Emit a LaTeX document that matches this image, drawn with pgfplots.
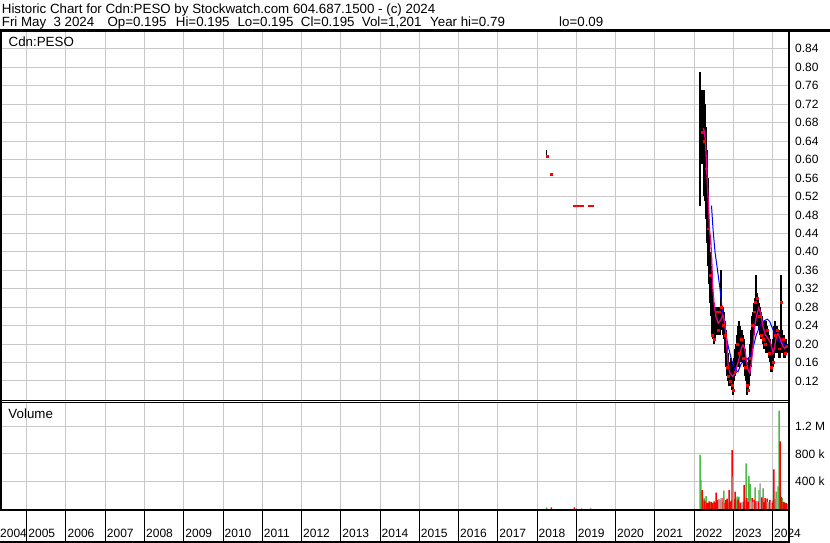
\documentclass[border=0pt]{standalone}
\usepackage{fontspec}
\setmainfont{Liberation Sans}
\usepackage{pgfplots}
\pgfplotsset{compat=1.18}
\usepackage{pgfplotstable}

\definecolor{gridc}{RGB}{200,200,200}
\definecolor{volg}{RGB}{76,185,72}
\definecolor{volr}{RGB}{255,0,0}
\definecolor{vola}{RGB}{170,170,170}

% price bars: x (year), high, low, close, red close mark
\pgfplotstableread{
x h l c r
2018.242 0.620 0.608 0.608 nan
2018.250 0.608 0.608 0.608 0.608
2018.268 0.608 0.608 0.608 0.608
2018.369 0.569 0.569 0.569 0.569
2018.955 0.50 0.50 0.50 0.50
2018.981 0.50 0.50 0.50 0.50
2019.006 0.50 0.50 0.50 0.50
2019.032 0.50 0.50 0.50 0.50
2019.057 0.50 0.50 0.50 0.50
2019.134 0.50 0.50 0.50 0.50
2019.159 0.50 0.50 0.50 0.50
2019.338 0.50 0.50 0.50 0.50
2019.363 0.50 0.50 0.50 0.50
2019.389 0.50 0.50 0.50 0.50
2019.414 0.50 0.50 0.50 0.50
2022.153 0.79 0.50 0.66 nan
2022.204 0.75 0.59 0.66 0.66
2022.229 0.75 0.60 0.68 nan
2022.255 0.75 0.52 0.64 0.64
2022.280 0.72 0.51 0.62 nan
2022.306 0.67 0.47 0.58 0.58
2022.331 0.62 0.42 0.52 nan
2022.357 0.56 0.37 0.45 0.45
2022.382 0.47 0.33 0.40 nan
2022.408 0.40 0.29 0.35 0.35
2022.433 0.37 0.26 0.31 nan
2022.459 0.33 0.22 0.28 0.22
2022.484 0.30 0.21 0.26 nan
2022.510 0.29 0.20 0.24 0.21
2022.535 0.28 0.21 0.25 nan
2022.561 0.27 0.22 0.24 0.27
2022.586 0.28 0.22 0.25 nan
2022.611 0.27 0.22 0.24 0.23
2022.637 0.28 0.23 0.26 0.27
2022.662 0.28 0.22 0.25 nan
2022.688 0.36 0.24 0.27 0.28
2022.713 0.28 0.23 0.26 nan
2022.739 0.28 0.22 0.25 0.24
2022.764 0.27 0.21 0.24 nan
2022.790 0.25 0.18 0.21 0.22
2022.815 0.23 0.15 0.18 nan
2022.841 0.20 0.13 0.16 0.15
2022.866 0.18 0.12 0.14 0.13
2022.892 0.16 0.11 0.13 nan
2022.917 0.16 0.11 0.13 0.12
2022.943 0.17 0.12 0.14 nan
2022.968 0.16 0.10 0.12 0.11
2022.994 0.15 0.09 0.11 0.10
2023.019 0.17 0.12 0.14 nan
2023.045 0.19 0.13 0.16 0.14
2023.070 0.20 0.14 0.17 nan
2023.096 0.22 0.15 0.19 0.20
2023.121 0.24 0.16 0.20 nan
2023.146 0.25 0.15 0.19 0.18
2023.172 0.24 0.16 0.20 nan
2023.197 0.22 0.16 0.19 0.21
2023.223 0.23 0.17 0.20 nan
2023.248 0.22 0.16 0.19 0.17
2023.274 0.21 0.15 0.18 nan
2023.299 0.19 0.13 0.16 0.15
2023.325 0.17 0.12 0.14 nan
2023.350 0.16 0.09 0.13 0.11
2023.376 0.16 0.10 0.12 0.10
2023.401 0.17 0.11 0.14 nan
2023.427 0.20 0.13 0.16 0.17
2023.452 0.23 0.15 0.19 nan
2023.478 0.26 0.18 0.22 0.24
2023.503 0.27 0.20 0.24 nan
2023.529 0.29 0.22 0.26 0.27
2023.554 0.30 0.24 0.27 0.29
2023.580 0.35 0.24 0.28 nan
2023.605 0.31 0.24 0.28 0.30
2023.631 0.30 0.24 0.27 nan
2023.656 0.29 0.23 0.26 0.26
2023.682 0.28 0.22 0.25 nan
2023.707 0.27 0.21 0.24 0.22
2023.732 0.26 0.21 0.23 nan
2023.758 0.25 0.20 0.22 0.21
2023.783 0.25 0.19 0.22 nan
2023.809 0.24 0.19 0.21 0.20
2023.834 0.25 0.18 0.21 nan
2023.860 0.24 0.19 0.21 0.23
2023.885 0.23 0.18 0.20 nan
2023.911 0.22 0.17 0.19 0.18
2023.936 0.21 0.16 0.18 nan
2023.962 0.20 0.14 0.17 0.15
2023.987 0.19 0.14 0.16 nan
2024.013 0.21 0.15 0.17 0.16
2024.038 0.24 0.17 0.20 nan
2024.064 0.25 0.18 0.21 0.22
2024.089 0.24 0.18 0.22 nan
2024.115 0.24 0.18 0.22 0.23
2024.140 0.23 0.18 0.21 nan
2024.166 0.23 0.17 0.20 0.19
2024.191 0.22 0.17 0.20 nan
2024.217 0.35 0.19 0.29 0.29
2024.242 0.23 0.18 0.20 nan
2024.268 0.22 0.18 0.20 0.21
2024.293 0.22 0.17 0.19 nan
2024.318 0.21 0.17 0.19 0.18
2024.344 0.21 0.18 0.20 nan
2024.369 0.20 0.18 0.195 0.195
}\pricedata

% short moving average (magenta)
\pgfplotstableread{
x y
2022.237 0.668
2022.255 0.664
2022.288 0.642
2022.306 0.614
2022.324 0.577
2022.339 0.549
2022.364 0.512
2022.382 0.476
2022.395 0.447
2022.425 0.426
2022.451 0.382
2022.476 0.324
2022.510 0.288
2022.561 0.259
2022.619 0.245
2022.680 0.252
2022.731 0.263
2022.772 0.252
2022.815 0.223
2022.848 0.180
2022.874 0.151
2022.917 0.137
2022.986 0.130
2023.045 0.137
2023.088 0.151
2023.121 0.160
2023.164 0.173
2023.205 0.191
2023.248 0.198
2023.292 0.191
2023.333 0.165
2023.376 0.144
2023.419 0.137
2023.460 0.158
2023.503 0.194
2023.546 0.238
2023.587 0.259
2023.648 0.278
2023.699 0.267
2023.758 0.238
2023.817 0.220
2023.885 0.212
2023.954 0.202
2024.013 0.180
2024.056 0.194
2024.097 0.216
2024.140 0.223
2024.209 0.209
2024.268 0.194
2024.311 0.191
2024.377 0.198
}\maShort

% long moving average (blue)
\pgfplotstableread{
x y
2022.446 0.500
2022.484 0.450
2022.535 0.400
2022.599 0.360
2022.662 0.320
2022.713 0.280
2022.790 0.230
2022.874 0.194
2022.960 0.165
2023.045 0.144
2023.121 0.140
2023.205 0.158
2023.333 0.165
2023.419 0.173
2023.503 0.191
2023.587 0.220
2023.674 0.238
2023.758 0.249
2023.868 0.254
2023.929 0.249
2024.013 0.231
2024.097 0.216
2024.184 0.205
2024.268 0.202
2024.352 0.196
}\maLong

% volume: up days (green)
\pgfplotstableread{
x v
2018.242 22000
2022.153 788000
2022.178 422000
2022.255 159000
2022.306 187000
2022.408 103000
2022.484 93000
2022.586 84000
2022.739 103000
2022.764 266000
2022.866 93000
2023.070 122000
2023.096 179000
2023.146 179000
2023.197 84000
2023.299 122000
2023.325 665000
2023.401 480000
2023.427 364000
2023.554 316000
2023.656 276000
2023.758 301000
2023.834 93000
2024.064 140000
2024.089 252000
2024.140 328000
2024.166 1430000
2024.242 159000
2024.293 103000
}\volG

% volume: down days (red)
\pgfplotstableread{
x v
2018.369 22000
2018.955 22000
2022.204 276000
2022.229 131000
2022.280 122000
2022.331 93000
2022.357 84000
2022.382 112000
2022.433 103000
2022.459 84000
2022.510 112000
2022.535 93000
2022.561 237000
2022.611 131000
2022.662 131000
2022.713 159000
2022.790 93000
2022.815 131000
2022.841 150000
2022.892 276000
2022.917 103000
2022.943 122000
2022.968 858000
2023.019 140000
2023.045 252000
2023.121 140000
2023.172 93000
2023.248 103000
2023.274 349000
2023.350 159000
2023.376 103000
2023.478 159000
2023.529 131000
2023.580 112000
2023.631 112000
2023.707 140000
2023.732 168000
2023.783 103000
2023.809 159000
2023.860 150000
2023.911 93000
2023.936 131000
2023.987 84000
2024.013 122000
2024.038 577000
2024.191 985000
2024.217 178000
2024.268 103000
2024.318 93000
2024.344 84000
2024.369 75000
}\volR

% volume: unchanged days (grey)
\pgfplotstableread{
x v
2019.006 15000
2019.134 15000
2019.363 15000
2022.637 145000
2022.688 159000
2022.994 470000
2023.223 103000
2023.452 122000
2023.503 103000
2023.605 103000
2023.682 374000
2023.885 103000
2023.962 93000
2024.115 159000
}\volA

\begin{document}
\begin{tikzpicture}[x=1pt,y=1pt]
\useasboundingbox (0,0) rectangle (830,543);
\fill[white] (0,0) rectangle (830,543);

% ---------------- price panel ----------------
\begin{axis}[
  at={(0pt,143pt)}, anchor=south west,
  scale only axis, width=789pt, height=368pt,
  xmin=2004.3185, xmax=2024.4204,
  ymin=0.0787, ymax=0.8765,
  xtick={2005,2006,2007,2008,2009,2010,2011,2012,2013,2014,2015,2016,2017,2018,2019,2020,2021,2022,2023,2024},
  xticklabels={},
  ytick={0.12,0.16,0.20,0.24,0.28,0.32,0.36,0.40,0.44,0.48,0.52,0.56,0.60,0.64,0.68,0.72,0.76,0.80,0.84},
  yticklabels={0.12,0.16,0.20,0.24,0.28,0.32,0.36,0.40,0.44,0.48,0.52,0.56,0.60,0.64,0.68,0.72,0.76,0.80,0.84},
  yticklabel pos=right,
  yticklabel style={anchor=west, inner sep=0pt, xshift=6pt, font=\fontsize{12}{14}\selectfont},
  grid=major, major grid style={gridc, line width=1pt},
  major tick length=0pt, tick style={draw=none},
  axis line style={draw=none},
]
\addplot[draw=none, mark=none, forget plot,
  error bars/.cd, y dir=both, y explicit,
  error mark options={draw=none, fill=none, mark size=0pt},
  error bar style={draw=black, solid, line width=1.25pt}]
  table[x=x, y=c, y error plus expr=\thisrow{h}-\thisrow{c}, y error minus expr=\thisrow{c}-\thisrow{l}] {\pricedata};
\addplot[blue, line width=1pt, mark=none] table[x=x, y=y] {\maLong};
\addplot[magenta, line width=1.3pt, mark=none] table[x=x, y=y] {\maShort};
\addplot[only marks, color=red, mark=square*, mark size=0.9pt, mark options={draw=red, fill=red}] table[x=x, y=r] {\pricedata};
\end{axis}

% ---------------- volume panel ----------------
\begin{axis}[
  at={(0pt,34pt)}, anchor=south west,
  scale only axis, width=789pt, height=106.5pt,
  xmin=2004.3185, xmax=2024.4204,
  ymin=0, ymax=1549091,
  scaled y ticks=false,
  xtick={2005,2006,2007,2008,2009,2010,2011,2012,2013,2014,2015,2016,2017,2018,2019,2020,2021,2022,2023,2024},
  xticklabels={},
  ytick={400000,800000,1200000},
  yticklabels={400 k,800 k,1.2 M},
  yticklabel pos=right,
  yticklabel style={anchor=west, inner sep=0pt, xshift=6pt, font=\fontsize{12}{14}\selectfont},
  grid=major, major grid style={gridc, line width=1pt},
  major tick length=0pt, tick style={draw=none},
  axis line style={draw=none},
]
\addplot[ybar, bar width=1.5pt, bar shift=0pt, fill=volg, draw=none] table[x=x, y=v] {\volG};
\addplot[ybar, bar width=1.5pt, bar shift=0pt, fill=volr, draw=none] table[x=x, y=v] {\volR};
\addplot[ybar, bar width=1.5pt, bar shift=0pt, fill=vola, draw=none] table[x=x, y=v] {\volA};
\end{axis}

% ---------------- date panel ----------------
\begin{axis}[
  at={(0pt,2pt)}, anchor=south west,
  scale only axis, width=789pt, height=30pt,
  xmin=2004.3185, xmax=2024.4204,
  ymin=0, ymax=1,
  xtick={2005,2006,2007,2008,2009,2010,2011,2012,2013,2014,2015,2016,2017,2018,2019,2020,2021,2022,2023,2024},
  xticklabels={}, ytick=\empty,
  xmajorgrids, major grid style={black, line width=1pt},
  major tick length=0pt, tick style={draw=none},
  axis line style={draw=none}, clip=false,
]
\node[anchor=base west, inner sep=0pt, font=\fontsize{12}{14}\selectfont] at (axis cs:2004.3185,0.1) {2004};
\pgfplotsinvokeforeach{2005,2006,2007,2008,2009,2010,2011,2012,2013,2014,2015,2016,2017,2018,2019,2020,2021,2022,2023,2024}{
  \node[anchor=base west, inner sep=0pt, xshift=1.5pt, font=\fontsize{12}{14}\selectfont] at (axis cs:#1,0.1) {#1};
}
\end{axis}

% ---------------- frame lines ----------------
\draw[black, line width=2.5pt] (0,512.3) -- (830,512.3);
\draw[black, line width=2pt] (789.2,0) -- (789.2,512.3);
\draw[black, line width=2pt] (1,33) -- (1,512.3);
\draw[black, line width=1pt] (0,142.5) -- (789,142.5);
\draw[black, line width=1pt] (0,140.5) -- (789,140.5);
\draw[black, line width=2pt] (0,33) -- (789,33);
\draw[black, line width=2pt] (0,1) -- (789,1);

% ---------------- texts ----------------
\begin{scope}[every node/.style={anchor=base west, inner sep=0pt, font=\fontsize{13.33}{16}\selectfont}]
\node at (1.7,529.7) {Historic Chart for Cdn:PESO by Stockwatch.com 604.687.1500 - (c) 2024};
\node at (1.7,516.5) {Fri May};
\node at (53.3,516.5) {3 2024};
\node at (107.3,516.5) {Op=0.195};
\node at (175.7,516.5) {Hi=0.195};
\node at (237.3,516.5) {Lo=0.195};
\node at (300.7,516.5) {Cl=0.195};
\node at (361.7,516.5) {Vol=1,201};
\node at (430,516.5) {Year hi=0.79};
\node at (559,516.5) {lo=0.09};
\node at (8.5,496.3) {Cdn:PESO};
\node at (8.3,124.7) {Volume};
\end{scope}
\end{tikzpicture}
\end{document}
